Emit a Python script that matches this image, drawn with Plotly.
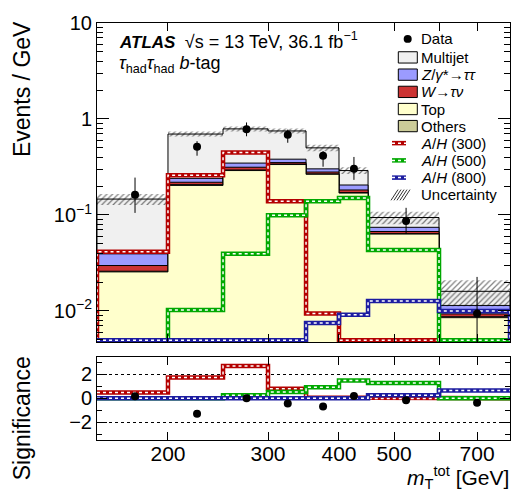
import numpy as np
import plotly.graph_objects as go

# ---------------- data ----------------
edges = [150, 200, 250, 300, 350, 400, 450, 600, 800]
centers = [175, 225, 275, 325, 375, 425, 525, 700]

top = [0.0255, 0.203, 0.290, 0.335, 0.265, 0.169, 0.0632, 0.0085]
others = [0.0004, 0.004, 0.004, 0.004, 0.003, 0.002, 0.0006, 0.0002]
w_taunu = [0.0038, 0.012, 0.020, 0.012, 0.012, 0.011, 0.0034, 0.0006]
z_tautau = [0.0096, 0.0215, 0.033, 0.030, 0.022, 0.023, 0.0071, 0.0021]
multijet = [0.107, 0.456, 0.441, 0.369, 0.198, 0.085, 0.0197, 0.0046]
unc_rel = [0.13, 0.06, 0.06, 0.06, 0.08, 0.08, 0.15, 0.30]

data = [0.162, 0.514, 0.78, 0.685, 0.413, 0.302, 0.0866, 0.0094]
data_err_up = [0.083, 0.073, 0.14, 0.09, 0.05, 0.10, 0.032, 0.0132]
data_err_dn = [0.057, 0.10, 0.12, 0.12, 0.095, 0.07, 0.023, 0.0068]

# 0 = below the visible axis range
ah300 = [0.0414, 0.259, 0.447, 0.139, 0.0094, 0, 0, 0]
ah500 = [0, 0.0102, 0.0393, 0.0993, 0.139, 0.150, 0.0431, 0]
ah800 = [0, 0, 0, 0, 0.0075, 0.0091, 0.0127, 0.0100]

signif300 = [0.48, 1.74, 2.70, 0.80, 0.06, 0.0, -0.02, 0.0]
signif500 = [0.0, 0.0, 0.26, 0.52, 0.93, 1.48, 1.27, 0.0]
signif800 = [0.0, 0.0, 0.0, 0.0, 0.0, 0.0, 0.25, 0.65]
signif_data = [0.16, -1.3, 0.0, -0.44, -0.69, 0.18, -0.17, -0.37]

x_ticks = [200, 300, 400, 500, 600, 700]
x_ticktext = ["200", "300", "400", "500", " ", "700"]
y_ticks = [0.01, 0.1, 1, 10]
y_ticktext = ["10<sup>\u22122</sup>", "10<sup>\u22121</sup>", "1", "10"]

# ---------------- layout geometry ----------------
W, H = 525, 495
ML, MR, MT, MB = 97, 15, 12, 55
PW, PH = W - ML - MR, H - MT - MB
YR = [-2.325, 1.0]
FLOOR = 10 ** -2.305
BOTTOM = 1e-5
FONT = "Liberation Sans, Arial, Helvetica, sans-serif"


def px(xp):
    return (xp - ML) / PW


def py(yp):
    return (H - MB - yp) / PH


def step_xy(vals, start=None, end=None):
    xs, ys = [], []
    if start is not None:
        xs.append(edges[0]); ys.append(start)
    for i, v in enumerate(vals):
        xs += [edges[i], edges[i + 1]]
        ys += [v, v]
    if end is not None:
        xs.append(edges[-1]); ys.append(end)
    return xs, ys


fig = go.Figure()

# stacked backgrounds
c_top = np.array(top)
c_oth = c_top + np.array(others)
c_w = c_oth + np.array(w_taunu)
c_z = c_w + np.array(z_tautau)
c_mj = c_z + np.array(multijet)

layers = [(c_mj, "#f0f0f0"), (c_z, "#9b9bff"), (c_w, "#cc3333"),
          (c_oth, "#cccc99"), (c_top, "#ffffcc")]
for cum, col in layers:
    xs, ys = step_xy(list(cum), BOTTOM, BOTTOM)
    fig.add_trace(go.Scatter(x=xs, y=ys, mode="lines", fill="toself",
                             fillcolor=col, line=dict(color="black", width=1),
                             xaxis="x", yaxis="y", hoverinfo="skip",
                             showlegend=False))

# uncertainty hatch
hx, hy = [], []
for i, t in enumerate(c_mj):
    lo, hi = t * (1 - unc_rel[i]), t * (1 + unc_rel[i])
    hx += [edges[i], edges[i + 1], edges[i + 1], edges[i], edges[i], None]
    hy += [lo, lo, hi, hi, lo, None]
fig.add_trace(go.Scatter(x=hx, y=hy, mode="lines", fill="toself",
                         fillcolor="rgba(0,0,0,0)",
                         fillpattern=dict(shape="/", fgcolor="black",
                                          bgcolor="rgba(0,0,0,0)", size=4,
                                          solidity=0.3),
                         line=dict(width=0, color="rgba(0,0,0,0)"),
                         xaxis="x", yaxis="y", hoverinfo="skip",
                         showlegend=False))

sig_styles = [(ah300, signif300, "#b40000"),
              (ah500, signif500, "#00a800"),
              (ah800, signif800, "#1c1ca0")]
LW, DW = 4.5, 1.5

for vals, _, col in sig_styles:
    v = [max(a, FLOOR) for a in vals]
    xs, ys = step_xy(v, FLOOR, FLOOR)
    fig.add_trace(go.Scatter(x=xs, y=ys, mode="lines",
                             line=dict(color=col, width=LW),
                             xaxis="x", yaxis="y", hoverinfo="skip",
                             showlegend=False))
    fig.add_trace(go.Scatter(x=xs, y=ys, mode="lines",
                             line=dict(color="white", width=DW, dash="3px,3px"),
                             xaxis="x", yaxis="y", hoverinfo="skip",
                             showlegend=False))

fig.add_trace(go.Scatter(x=centers, y=data, mode="markers",
                         marker=dict(color="black", size=8),
                         error_y=dict(type="data", symmetric=False,
                                      array=data_err_up, arrayminus=data_err_dn,
                                      color="black", thickness=1, width=0),
                         xaxis="x", yaxis="y", showlegend=False))

# lower panel
for _, sv, col in sig_styles:
    xs, ys = step_xy(sv)
    fig.add_trace(go.Scatter(x=xs, y=ys, mode="lines",
                             line=dict(color=col, width=LW),
                             xaxis="x2", yaxis="y2", hoverinfo="skip",
                             showlegend=False))
    fig.add_trace(go.Scatter(x=xs, y=ys, mode="lines",
                             line=dict(color="white", width=DW, dash="3px,3px"),
                             xaxis="x2", yaxis="y2", hoverinfo="skip",
                             showlegend=False))
fig.add_trace(go.Scatter(x=centers, y=signif_data, mode="markers",
                         marker=dict(color="black", size=8),
                         xaxis="x2", yaxis="y2", showlegend=False))

# ---------------- axes ----------------
minor_y = [m * 10 ** k for k in range(-3, 1) for m in range(2, 10)]
axis_common = dict(showline=True, linecolor="black", linewidth=1,
                   mirror="allticks", ticks="inside", tickcolor="black",
                   showgrid=False, zeroline=False)
xr = [np.log10(150), np.log10(800)]
fig.update_layout(
    width=W, height=H,
    margin=dict(l=ML, r=MR, t=MT, b=MB),
    paper_bgcolor="white", plot_bgcolor="white",
    font=dict(family=FONT, color="black"),
    xaxis=dict(type="log", range=xr, domain=[0, 1], anchor="y",
               tickvals=x_ticks, ticklen=8, showticklabels=False,
               **axis_common),
    xaxis2=dict(type="log", range=xr, domain=[0, 1], anchor="y2",
                matches="x", tickvals=x_ticks, ticktext=x_ticktext,
                ticklen=8, ticklabelstandoff=-5,
                tickfont=dict(family=FONT, size=21, color="black"),
                **axis_common),
    yaxis=dict(type="log", range=YR, domain=[py(339.5), 1], anchor="x",
               tickvals=y_ticks, ticktext=y_ticktext, ticklen=12,
               tickfont=dict(family=FONT, size=20, color="black"),
               minor=dict(tickvals=minor_y, ticklen=6, ticks="inside",
                          tickcolor="black"),
               **axis_common),
    yaxis2=dict(range=[-3.5, 3.5], domain=[0, py(354.3)], anchor="x2",
                tickvals=[-2, 0, 2], ticktext=["\u22122", "0", "2"],
                ticklen=10,
                tickfont=dict(family=FONT, size=20, color="black"),
                minor=dict(tickvals=[-3, -1, 1, 3], ticklen=5, ticks="inside",
                           tickcolor="black"),
                **{k: v for k, v in axis_common.items() if k != "showgrid"},
                showgrid=True, gridcolor="black", griddash="dot", gridwidth=0.7),
)

ann = []
shapes = []
# titles
ann.append(dict(text="Events / GeV", x=px(22), y=py(8), xref="paper",
                yref="paper", xanchor="center", yanchor="top", textangle=-90,
                showarrow=False, font=dict(size=23)))
ann.append(dict(text="Significance", x=px(22), y=py(352), xref="paper",
                yref="paper", xanchor="center", yanchor="top", textangle=-90,
                showarrow=False, font=dict(size=23)))
ann.append(dict(text="<i>m</i><sub>T</sub><sup>tot</sup> [GeV]", x=px(511),
                y=py(495), xref="paper", yref="paper", xanchor="right",
                yanchor="bottom", showarrow=False, font=dict(size=21)))
ann.append(dict(text="<b><i>ATLAS</i></b>  <span style='font-size:18px'>\u221as = 13 TeV, 36.1 fb<sup>\u22121</sup></span>",
                x=px(117), y=py(30), xref="paper", yref="paper",
                xanchor="left", yanchor="middle", showarrow=False,
                font=dict(size=17)))
ann.append(dict(text="<i>\u03c4</i><sub>had</sub><i>\u03c4</i><sub>had</sub> <i>b</i>-tag",
                x=px(117), y=py(55), xref="paper", yref="paper",
                xanchor="left", yanchor="middle", showarrow=False,
                font=dict(size=18)))

# legend
leg_font = dict(size=15)
TX = 419


def label(text, yc):
    ann.append(dict(text=text, x=px(TX), y=py(yc), xref="paper",
                    yref="paper", xanchor="left", yanchor="middle",
                    showarrow=False, font=leg_font))


shapes.append(dict(type="circle", xref="paper", yref="paper",
                   x0=px(403.7), x1=px(411.7), y0=py(24.3), y1=py(32.3),
                   fillcolor="black", line=dict(color="black", width=0)))
label("Data", 28.3)
boxes = [("Multijet", "#f0f0f0", 47.3),
         ("<i>Z</i>/<i>\u03b3</i>*\u2192<i>\u03c4\u03c4</i>", "#9b9bff", 65.0),
         ("<i>W</i>\u2192<i>\u03c4\u03bd</i>", "#cc3333", 82.7),
         ("Top", "#ffffcc", 100.3),
         ("Others", "#cccc99", 117.8)]
for txt, col, yc in boxes:
    shapes.append(dict(type="rect", xref="paper", yref="paper",
                       x0=px(398.3), x1=px(417.3), y0=py(yc + 5.8),
                       y1=py(yc - 5.8), fillcolor=col,
                       line=dict(color="black", width=1)))
    label(txt, yc)
lines_leg = [("<i>A</i>/<i>H</i> (300)", "#b40000", 135.3),
             ("<i>A</i>/<i>H</i> (500)", "#00a800", 153.0),
             ("<i>A</i>/<i>H</i> (800)", "#1c1ca0", 170.7)]
for txt, col, yc in lines_leg:
    shapes.append(dict(type="line", xref="paper", yref="paper",
                       x0=px(392), x1=px(406), y0=py(yc), y1=py(yc),
                       line=dict(color=col, width=LW)))
    shapes.append(dict(type="line", xref="paper", yref="paper",
                       x0=px(392), x1=px(406), y0=py(yc), y1=py(yc),
                       line=dict(color="white", width=DW, dash="3px,3px")))
    label(txt, yc)
for x0 in [391, 394, 397, 400, 403]:
    shapes.append(dict(type="line", xref="paper", yref="paper",
                       x0=px(x0), x1=px(x0 + 7), y0=py(194), y1=py(183),
                       line=dict(color="black", width=0.8)))
label("Uncertainty", 188.5)

fig.update_layout(annotations=ann, shapes=shapes)
fig.write_html("out.html")
